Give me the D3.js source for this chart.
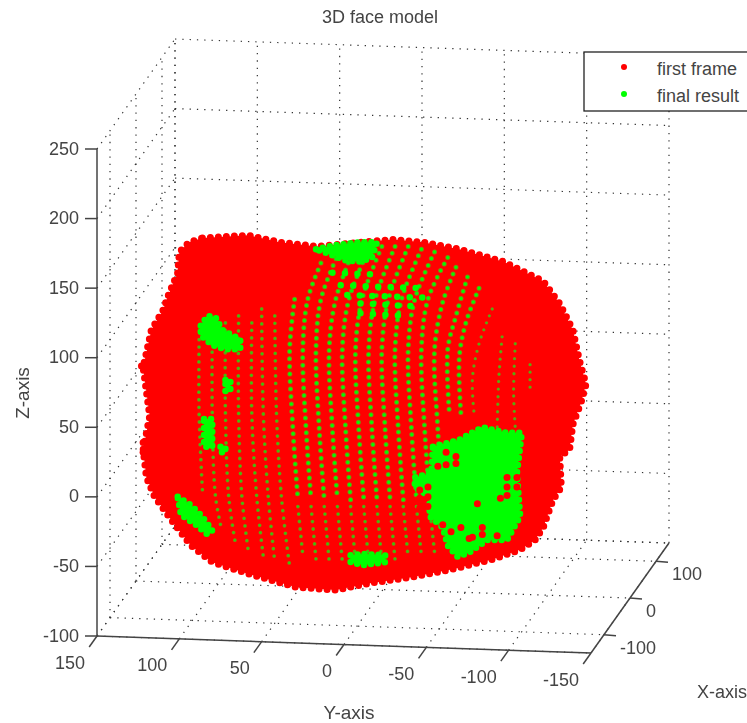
<!DOCTYPE html>
<html>
<head>
<meta charset="utf-8">
<title>3D face model</title>
<script src="https://cdn.jsdelivr.net/npm/d3@7/dist/d3.min.js"></script>
<style>
  html, body { margin: 0; background: #fff; overflow: hidden; }
  svg { display: block; filter: blur(0.55px); }
  text { font-family: "Liberation Sans", Arial, sans-serif; fill: #444; }
</style>
</head>
<body>
<div id="viz"></div>
<script>
const COLORS = { red: "#ff0000", green: "#00ff00", olive: "#7d8a10", grid: "#333", axis: "#444" };

const xTicks = [-100, 0, 100];
const yTicks = [150, 100, 50, 0, -50, -100, -150];
const zTicks = [-100, -50, 0, 50, 100, 150, 200, 250];

const redOutline = [
  [86,186],[58,188],[39,183],[16,180],[-10,183],[-30,185],[-48,183],[-70,178],[-97,169],[-121,155],
  [-131,139],[-139,120],[-143,98],[-147,81],[-144,68],[-139,52],[-137,34],[-131,29],[-132,7],[-127,-2],
  [-121,-22],[-116,-31],[-107,-38],[-90,-45],[-66,-52],[-40,-58],[-16,-62],[5,-67],[29,-65],[59,-55],
  [80,-47],[93,-35],[104,-18],[115,0],[120,14],[122,34],[118,58],[122,93],[117,120],[110,134],
  [107,144],[101,161],[100,176],[94,183]
];
const redStray = [[122,39],[122,32],[123,94]];

const dimColumns = [
  [[88,113],[88,60],[86,5]],
  [[80,120],[80,60],[78,0],[74,-25]],
  [[72,125],[72,60],[70,0],[66,-33]],
  [[64,130],[64,60],[62,0],[58,-40]],
  [[56,125],[56,60],[53,0],[49,-43]],
  [[50,135],[49,60],[46,0],[42,-47]],
  [[42,130],[41,60],[38,0],[33,-50]]
];
const brightColumns = [
  [[30,142],[33,106],[31,48],[28,-2]],
  [[14,168],[22,142],[25,106],[23,48],[20,-2]],
  [[3,176],[14,142],[17,106],[15,48],[12,-2]],
  [[-6,178],[5,142],[9,106],[7,48],[4,-2]],
  [[-15,178],[-3,142],[1,106],[-1,48],[-4,-2]],
  [[-23,180],[-11,142],[-7,106],[-9,48],[-12,-2]],
  [[-31,180],[-19,142],[-15,106],[-17,48],[-20,-2]],
  [[-39,180],[-27,142],[-23,106],[-25,48],[-28,-2]],
  [[-47,178],[-35,142],[-31,106],[-33,48],[-36,-2]],
  [[-55,176],[-43,142],[-39,106],[-41,48],[-44,-2]],
  [[-63,172],[-51,142],[-47,106],[-49,48],[-52,-2]],
  [[-68,165],[-60,140],[-55,106],[-57,48],[-60,-5]],
  [[-75,158],[-68,130],[-63,106],[-64,60]],
  [[-82,150],[-74,125],[-70,100],[-71,60]]
];
const lowColumns = [
  [[28,-7],[25,-42]],
  [[20,-7],[17,-45]],
  [[12,-7],[9,-46]],
  [[4,-7],[1,-47]],
  [[-4,-7],[-7,-47]],
  [[-12,-7],[-15,-47]],
  [[-20,-7],[-23,-47]],
  [[-28,-7],[-31,-45]],
  [[-36,-7],[-39,-44]],
  [[-44,-7],[-47,-42]],
  [[-52,-7],[-55,-40]]
];
const fadedColumns = [
  [[-90,135],[-82,110],[-78,85],[-79,60]],
  [[-96,115],[-94,85],[-93,48]],
  [[-104,110],[-103,75],[-104,50]],
  [[-113,95],[-113,78]]
];
const greenRows = [
  [[7,161],[-16,160]],
  [[2,152],[-46,150]],
  [[-2,145],[-54,143]],
  [[-10,139],[-42,137]],
  [[-10,132],[-36,130]]
];
const greenBlobs = [
  [[17,178],[5,181],[-10,183],[-20,183],[-17,172],[-10,169],[-1,170],[8,174]],
  [[87,123],[83,130],[78,129],[74,120],[63,113],[63,106],[72,106],[80,109],[87,116]],
  [[72,84],[69,84],[69,76],[72,76]],
  [[85,56],[80,56],[80,36],[85,36]],
  [[75,36],[72,36],[72,32],[75,32]],
  [[101,0],[93,-6],[87,-13],[80,-24],[83,-27],[90,-20],[99,-13]],
  [[-54,36],[-70,41],[-84,50],[-99,46],[-108,46],[-105,17],[-107,-14],[-99,-31],[-87,-31],[-76,-40],[-69,-43],[-63,-35],[-60,-22],[-52,-14],[-52,0],[-43,7],[-43,14],[-53,17]],
  [[-4,-42],[-12,-41],[-25,-42],[-25,-47],[-12,-49],[-4,-47]]
];
const redOverGreen = [
  [-57,22],[-62,23],[-68,24],[-62,32],[-68,29],[-81,-5],[-95,-1],[-84,-22],[-78,-29],[-84,-27],
  [-46,5],[-46,-1],[-46,-8],[-51,7],[-51,0],[-51,-7],[-99,14],[-99,7],[-99,1],[-105,14],[-105,7],
  [-60,-20],[-65,-25],[-71,-22],[-76,-30],[-93,-28]
];

const legendNames = ["first frame", "final result"];

const width = 747;
const height = 723;

const svg = d3.select("#viz")
  .append("svg")
  .attr("width", width)
  .attr("height", height);

// box edges on screen
const yPx = d3.scaleLinear().domain([150, -150]).range([97, 591]);
const yPy = d3.scaleLinear().domain([150, -150]).range([636, 653]);
const xPx = d3.scaleLinear().domain([-150, 150]).range([0, 78]);
const xPy = d3.scaleLinear().domain([-150, 150]).range([0, -110]);
const zPy = d3.scaleLinear().domain([-100, 250]).range([636, 149]);

function project(x, y, z) {
  return [yPx(y) + xPx(x), yPy(y) + xPy(x) + zPy(z) - 636];
}

function seg(g, a, b) {
  const p = project(...a);
  const q = project(...b);
  g.append("line")
    .attr("x1", p[0]).attr("y1", p[1])
    .attr("x2", q[0]).attr("y2", q[1]);
}

// Grid on the three back walls
const grid = svg.append("g")
  .attr("stroke", COLORS.grid)
  .attr("stroke-width", 1.2)
  .attr("stroke-dasharray", "1.3 6");

const xGrid = [-150, ...xTicks, 150];
xGrid.forEach(x => {
  if (x !== -150) seg(grid, [x, 150, -100], [x, 150, 250]);
  seg(grid, [x, 150, -100], [x, -150, -100]);
});
yTicks.forEach(y => {
  seg(grid, [150, y, -100], [150, y, 250]);
  seg(grid, [-150, y, -100], [150, y, -100]);
});
zTicks.forEach(z => {
  seg(grid, [-150, 150, z], [150, 150, z]);
  seg(grid, [150, 150, z], [150, -150, z]);
});

// Point cloud
const cloudLine = d3.line()
  .x(d => yPx(d[0]))
  .y(d => zPy(d[1]));

const cloud = svg.append("g");

cloud.append("path")
  .attr("d", cloudLine(redOutline) + "Z")
  .attr("fill", COLORS.red);

cloud.append("path")
  .attr("d", cloudLine(redOutline) + "Z")
  .attr("fill", "none")
  .attr("stroke", COLORS.red)
  .attr("stroke-width", 7)
  .attr("stroke-linecap", "round")
  .attr("stroke-dasharray", "0 8");

cloud.selectAll(".stray")
  .data(redStray)
  .join("circle")
  .attr("class", "stray")
  .attr("cx", d => yPx(d[0]))
  .attr("cy", d => zPy(d[1]))
  .attr("r", 3.5)
  .attr("fill", COLORS.red);

function dotted(data, color, size, gap) {
  cloud.append("g")
    .selectAll("path")
    .data(data)
    .join("path")
    .attr("d", d3.line().x(d => yPx(d[0])).y(d => zPy(d[1])).curve(d3.curveCatmullRom))
    .attr("fill", "none")
    .attr("stroke", color)
    .attr("stroke-width", size)
    .attr("stroke-linecap", "round")
    .attr("stroke-dasharray", `0 ${gap}`);
}

// green markers sit half under the red ones, so each gets an olive fringe
dotted(fadedColumns, COLORS.olive, 3.4, 7.5);
dotted(fadedColumns, "#40c010", 1.8, 7.5);
dotted(lowColumns, COLORS.olive, 3.8, 7.5);
dotted(lowColumns, "#30cc0c", 2.2, 7.5);
dotted(dimColumns, COLORS.olive, 3.8, 7.5);
dotted(dimColumns, "#30cc0c", 2.2, 7.5);
dotted(brightColumns, COLORS.olive, 5, 7.5);
dotted(brightColumns, COLORS.green, 3.2, 7.5);
dotted(greenRows, COLORS.green, 6.5, 12.5);

cloud.append("g")
  .selectAll("path")
  .data(greenBlobs)
  .join("path")
  .attr("d", d => cloudLine(d) + "Z")
  .attr("fill", COLORS.green);

cloud.append("g")
  .selectAll("path")
  .data(greenBlobs)
  .join("path")
  .attr("d", d => cloudLine(d) + "Z")
  .attr("fill", "none")
  .attr("stroke", COLORS.green)
  .attr("stroke-width", 6.5)
  .attr("stroke-linecap", "round")
  .attr("stroke-dasharray", "0 7");

cloud.append("g")
  .selectAll("circle")
  .data(redOverGreen)
  .join("circle")
  .attr("cx", d => yPx(d[0]))
  .attr("cy", d => zPy(d[1]))
  .attr("r", 3.5)
  .attr("fill", COLORS.red);

// Axes
const axes = svg.append("g")
  .attr("stroke", COLORS.axis)
  .attr("stroke-width", 1.5)
  .attr("fill", "none");

seg(axes, [-150, 150, -100], [-150, 150, 250]);
seg(axes, [-150, 150, -100], [-150, -150, -100]);
seg(axes, [-150, -150, -100], [150, -150, -100]);

zTicks.forEach(z => {
  const p = project(-150, 150, z);
  axes.append("line")
    .attr("x1", p[0]).attr("y1", p[1])
    .attr("x2", p[0] - 12).attr("y2", p[1]);
  svg.append("text")
    .attr("x", p[0] - 18)
    .attr("y", p[1] + 5.5)
    .attr("text-anchor", "end")
    .attr("font-size", 18)
    .text(z);
});

yTicks.forEach(y => {
  seg(axes, [-150, y, -100], [-180, y, -100]);
  const p = project(-150, y, -100);
  svg.append("text")
    .attr("x", p[0] - 12)
    .attr("y", p[1] + 32.5)
    .attr("text-anchor", "end")
    .attr("font-size", 18)
    .text(y);
});

xTicks.forEach(x => {
  const p = project(x, -150, -100);
  axes.append("line")
    .attr("x1", p[0]).attr("y1", p[1])
    .attr("x2", p[0] + 12).attr("y2", p[1] + 1);
  svg.append("text")
    .attr("x", p[0] + 16)
    .attr("y", p[1] + 19)
    .attr("font-size", 18)
    .text(x);
});

// Titles
svg.append("text")
  .attr("x", 380)
  .attr("y", 23)
  .attr("text-anchor", "middle")
  .attr("font-size", 18)
  .text("3D face model");

svg.append("text")
  .attr("x", 349)
  .attr("y", 719)
  .attr("text-anchor", "middle")
  .attr("font-size", 19)
  .text("Y-axis");

svg.append("text")
  .attr("x", 697)
  .attr("y", 698)
  .attr("font-size", 18)
  .text("X-axis");

svg.append("text")
  .attr("transform", "translate(29,393) rotate(-90)")
  .attr("text-anchor", "middle")
  .attr("font-size", 19)
  .text("Z-axis");

// Legend, it runs off the right edge in the original
const legend = svg.append("g");

legend.append("rect")
  .attr("x", 584)
  .attr("y", 52)
  .attr("width", 180)
  .attr("height", 59)
  .attr("fill", "#fff")
  .attr("stroke", "#222")
  .attr("stroke-width", 1.3);

legendNames.forEach((name, i) => {
  legend.append("circle")
    .attr("cx", 624)
    .attr("cy", 67 + i * 27)
    .attr("r", 3)
    .attr("fill", i === 0 ? COLORS.red : COLORS.green);
  legend.append("text")
    .attr("x", 657)
    .attr("y", 75 + i * 27)
    .attr("font-size", 18)
    .text(name);
});
</script>
</body>
</html>
